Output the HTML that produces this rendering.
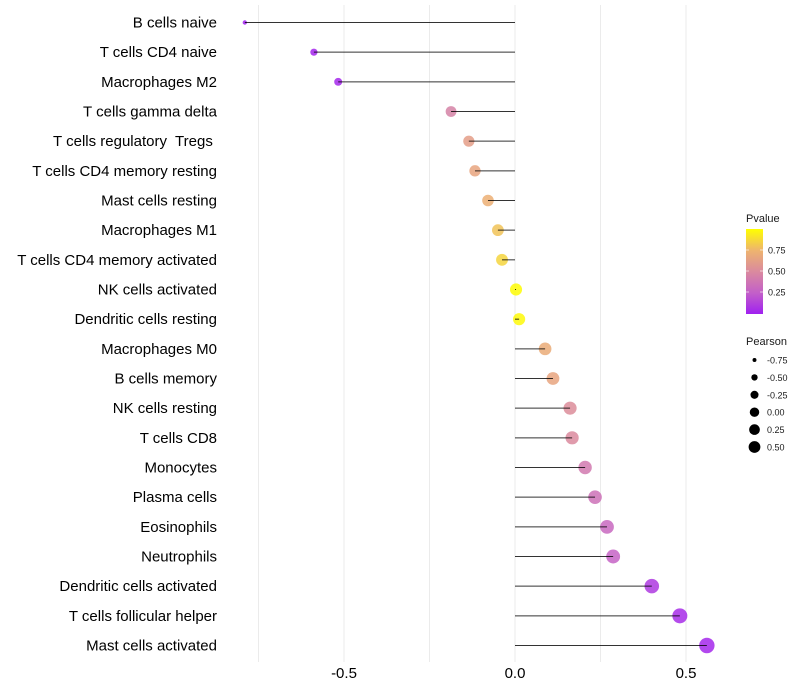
<!DOCTYPE html>
<html><head><meta charset="utf-8"><style>
body{margin:0;background:#fff;}
svg{display:block;font-family:"Liberation Sans",Arial,sans-serif;}
</style></head><body>
<svg id="chart" width="800" height="700"></svg>
<script>
const categories=["B cells naive","T cells CD4 naive","Macrophages M2","T cells gamma delta","T cells regulatory  Tregs ","T cells CD4 memory resting","Mast cells resting","Macrophages M1","T cells CD4 memory activated","NK cells activated","Dendritic cells resting","Macrophages M0","B cells memory","NK cells resting","T cells CD8","Monocytes","Plasma cells","Eosinophils","Neutrophils","Dendritic cells activated","T cells follicular helper","Mast cells activated"];
const pearson=[-0.79,-0.588,-0.517,-0.187,-0.135,-0.117,-0.079,-0.05,-0.038,0.003,0.012,0.088,0.111,0.161,0.167,0.205,0.234,0.269,0.287,0.40,0.482,0.561];
const pvalue=[0.01,0.02,0.03,0.45,0.62,0.66,0.72,0.8,0.86,0.99,0.98,0.7,0.66,0.52,0.5,0.4,0.35,0.3,0.27,0.1,0.05,0.03];
const xTicks=[-0.5,0,0.5];
const xTickLabels=["-0.5","0.0","0.5"];
const xGrid=[-0.75,-0.5,-0.25,0,0.25,0.5];
const pTicks=[0.25,0.5,0.75];
const sizeTicks=[-0.75,-0.5,-0.25,0,0.25,0.5];
const sizeLabels=["-0.75","-0.50","-0.25","0.00","0.25","0.50"];

const NS="http://www.w3.org/2000/svg";
const svg=document.getElementById('chart');
function mk(t,a,p){const e=document.createElementNS(NS,t);for(const k in a)e.setAttribute(k,a[k]);(p||svg).appendChild(e);return e;}
const x=v=>515+v*342;
const n=categories.length;
const y=i=>22.5+i*(623/(n-1));
const rr=v=>1.1*Math.sqrt(Math.max(2,30.3+33.3*v));
const stops=[[0,[160,32,240]],[0.25,[195,96,200]],[0.5,[218,138,158]],[0.75,[238,180,110]],[1,[255,255,0]]];
function col(p){p=Math.max(0,Math.min(1,p));for(let i=1;i<stops.length;i++){if(p<=stops[i][0]){const a=stops[i-1],b=stops[i];const t=(p-a[0])/(b[0]-a[0]);const c=a[1].map((v,j)=>Math.round(v+(b[1][j]-v)*t));return `rgb(${c})`;}}return 'rgb(255,255,0)';}

const grid=mk('g',{});


xGrid.forEach(v=>{mk('line',{x1:x(v),x2:x(v),y1:5,y2:662,stroke:'#ebebeb','stroke-width':1},grid);});

categories.forEach((c,i)=>{
  const t=mk('text',{x:217,y:y(i)+5,'text-anchor':'end','font-size':15,fill:'#000','xml:space':'preserve'});
  t.style.whiteSpace='pre';
  t.textContent=c;
  
  
  const pt=mk('circle',{cx:x(pearson[i]),cy:y(i),r:rr(pearson[i]),fill:col(pvalue[i]),'fill-opacity':0.85});
  
  
  const s=mk('line',{x1:x(0),x2:x(pearson[i]),y1:y(i),y2:y(i),stroke:'#000','stroke-width':1,'stroke-opacity':0.8});
  
  
});
xTicks.forEach((v,i)=>{
  const t=mk('text',{x:x(v),y:678,'text-anchor':'middle','font-size':15,fill:'#000'});
  t.textContent=xTickLabels[i];
  
  
});
const lg=mk('g',{});


const tt=mk('text',{x:746,y:222,'font-size':11,fill:'#1a1a1a'},lg);tt.textContent='Pvalue';
const defs=mk('defs',{});
const gr=mk('linearGradient',{id:'pg',x1:0,y1:1,x2:0,y2:0},defs);
stops.forEach(s=>mk('stop',{offset:s[0],'stop-color':`rgb(${s[1]})`},gr));
mk('rect',{x:746,y:229,width:17,height:85,fill:'url(#pg)'},lg);
pTicks.forEach(p=>{const yy=313-p*84;
  mk('line',{x1:746,x2:749,y1:yy,y2:yy,stroke:'#fff','stroke-opacity':0.6},lg);
  mk('line',{x1:760,x2:763,y1:yy,y2:yy,stroke:'#fff','stroke-opacity':0.6},lg);
  const t=mk('text',{x:768,y:yy+3.5,'font-size':9,fill:'#1a1a1a'},lg);t.textContent=p.toFixed(2);});
const sg=mk('g',{});


const st=mk('text',{x:746,y:345,'font-size':11,fill:'#1a1a1a'},sg);st.textContent='Pearson';
sizeTicks.forEach((v,i)=>{const yy=360+i*17.4;
  mk('circle',{cx:754.5,cy:yy,r:rr(v)*0.78,fill:'#000'},sg);
  const t=mk('text',{x:767,y:yy+3.5,'font-size':9,fill:'#1a1a1a'},sg);t.textContent=sizeLabels[i];});
</script>
</body></html>
